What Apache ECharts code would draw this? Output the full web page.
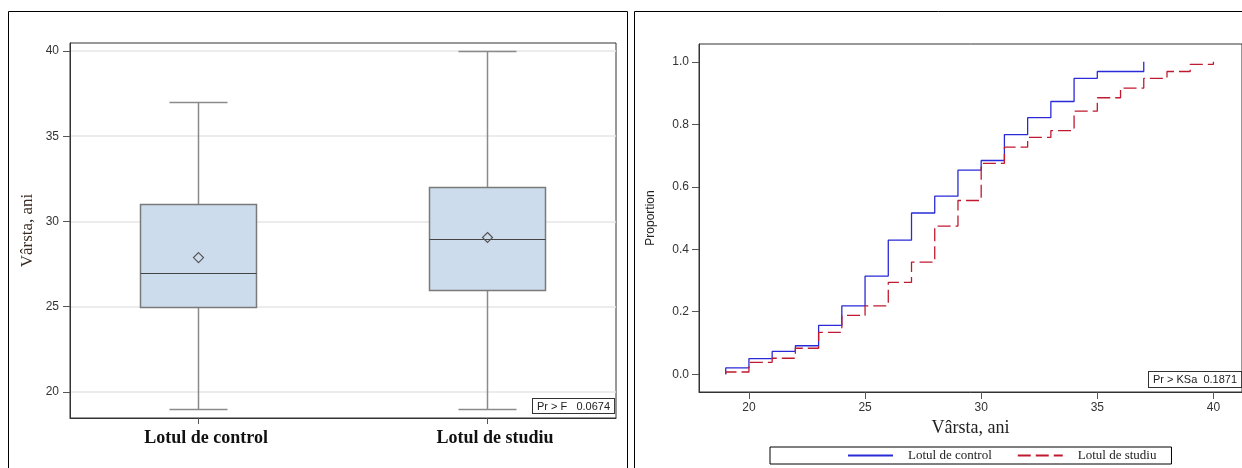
<!DOCTYPE html>
<html><head><meta charset="utf-8">
<script src="https://cdn.jsdelivr.net/npm/echarts@6/dist/echarts.min.js"></script>
<style>html,body{margin:0;padding:0;background:#fff}#c{width:1242px;height:468px}</style>
</head><body><div id="c"></div>
<script>
// ---- Left panel: box plot of age by group ----
const categories = ['Lotul de control', 'Lotul de studiu'];
const boxMin = [19, 19];
const boxQ1 = [25, 26];
const boxMedian = [27, 29];
const boxQ3 = [31, 32];
const boxMax = [37, 40];
const boxMean = [27.88, 29.06];
const boxTicks = [20, 25, 30, 35, 40];
const boxTestText = 'Pr > F   0.0674';

// ---- Right panel: empirical distribution functions ----
const seriesNames = ['Lotul de control', 'Lotul de studiu'];
const ageControl = [19, 20, 21, 22, 23, 24, 25, 26, 27, 28, 29, 30, 31, 32, 33, 34, 35, 37];
const propControl = [0.020, 0.050, 0.073, 0.091, 0.156, 0.219, 0.314, 0.429, 0.516, 0.570, 0.653, 0.684, 0.767, 0.821, 0.873, 0.947, 0.969, 1.000];
const ageStudy = [19, 20, 21, 22, 23, 24, 25, 26, 27, 28, 29, 30, 31, 32, 33, 34, 35, 36, 37, 38, 39, 40];
const propStudy = [0.007, 0.038, 0.051, 0.083, 0.134, 0.188, 0.219, 0.294, 0.359, 0.474, 0.556, 0.675, 0.727, 0.758, 0.780, 0.842, 0.885, 0.916, 0.947, 0.969, 0.992, 1.000];
const ageTicks = [20, 25, 30, 35, 40];
const propTicks = [0, 0.2, 0.4, 0.6, 0.8, 1.0];
const ksTestText = 'Pr > KSa  0.1871';

const boxData = categories.map((c, i) => [i + 1, boxMin[i], boxQ1[i], boxMedian[i], boxQ3[i], boxMax[i], boxMean[i]]);
function ecdf(xs, ys) {
  const out = [[xs[0], 0]];
  xs.forEach((x, i) => out.push([x, ys[i]]));
  return out;
}

const SANS = 'Liberation Sans, Arial, sans-serif';
const SERIF = 'Liberation Serif, Times New Roman, serif';

const chart = echarts.init(document.getElementById('c'), null, { renderer: 'canvas' });
chart.setOption({
  animation: false,
  backgroundColor: '#fff',
  grid: [
    { left: 70, top: 43, width: 546, height: 375, show: true, borderColor: '#333', borderWidth: 1, backgroundColor: 'transparent' },
    { left: 699, top: 44, width: 544, height: 348, show: true, borderColor: '#333', borderWidth: 1, backgroundColor: 'transparent' }
  ],
  xAxis: [
    {
      type: 'value', gridIndex: 0, min: 0.557, max: 2.446,
      axisLine: { show: true, onZero: false, lineStyle: { color: '#333' } },
      axisTick: { show: true, length: 6, customValues: [1, 2], lineStyle: { color: '#555' } },
      axisLabel: {
        customValues: [1, 2], margin: 11, padding: [0, 0, 0, 16],
        formatter: v => categories[Math.round(v) - 1] || '',
        fontFamily: SERIF, fontWeight: 'bold', fontSize: 18, color: '#111'
      },
      splitLine: { show: false }
    },
    {
      type: 'value', gridIndex: 1, min: 17.85, max: 41.23,
      name: 'Vârsta, ani', nameLocation: 'middle', nameGap: 26,
      nameTextStyle: { fontFamily: SERIF, fontSize: 18, color: '#222' },
      axisLine: { show: true, onZero: false, lineStyle: { color: '#333' } },
      axisTick: { show: true, length: 7, customValues: ageTicks, lineStyle: { color: '#555' } },
      axisLabel: { customValues: ageTicks, margin: 10, fontFamily: SANS, fontSize: 12, color: '#333' },
      splitLine: { show: false }
    }
  ],
  yAxis: [
    {
      type: 'value', gridIndex: 0, min: 18.47, max: 40.47,
      name: 'Vârsta, ani', nameLocation: 'middle', nameGap: 34, nameRotate: 90,
      nameTextStyle: { fontFamily: SERIF, fontSize: 17, color: '#3a2a20' },
      axisLine: { show: true, onZero: false, lineStyle: { color: '#333' } },
      axisTick: { show: true, length: 7, customValues: boxTicks, lineStyle: { color: '#555' } },
      axisLabel: { customValues: boxTicks, margin: 11, fontFamily: SANS, fontSize: 12, color: '#333' },
      splitLine: { show: true, lineStyle: { color: '#e6e6e6', width: 1.5 } }
    },
    {
      type: 'value', gridIndex: 1, min: -0.057, max: 1.057,
      name: 'Proportion', nameLocation: 'middle', nameGap: 42, nameRotate: 90,
      nameTextStyle: { fontFamily: 'Liberation Sans Narrow, ' + SANS, fontSize: 12, color: '#222' },
      axisLine: { show: true, onZero: false, lineStyle: { color: '#333' } },
      axisTick: { show: true, length: 7, customValues: propTicks, lineStyle: { color: '#555' } },
      axisLabel: { customValues: propTicks, margin: 10, formatter: v => v.toFixed(1), fontFamily: SANS, fontSize: 12, color: '#333' },
      splitLine: { show: false }
    }
  ],
  legend: {
    left: 770, top: 447, orient: 'horizontal',
    data: seriesNames,
    itemWidth: 45, itemHeight: 12, itemGap: 25,
    itemStyle: { opacity: 0 },
    borderColor: '#000', borderWidth: 1, padding: [2, 15, 2, 77],
    textStyle: { fontFamily: SERIF, fontSize: 13, color: '#222', padding: [0, 0, 0, 10] }
  },
  series: [
    {
      type: 'custom', xAxisIndex: 0, yAxisIndex: 0, data: boxData,
      encode: { x: 0, y: [1, 2, 3, 4, 5, 6] },
      renderItem: function (params, api) {
        const x = api.value(0);
        const cx = Math.round(api.coord([x, 0])[0]) + 0.5;
        const y = v => Math.round(api.coord([x, v])[1]) + 0.5;
        const yMin = y(api.value(1)), yQ1 = y(api.value(2)), yMed = y(api.value(3));
        const yQ3 = y(api.value(4)), yMax = y(api.value(5));
        const yMean = api.coord([x, api.value(6)])[1];
        const hw = 58, cw = 29, d = 5;
        const wStyle = { stroke: '#8a8a8a', lineWidth: 1.5 };
        return {
          type: 'group',
          children: [
            { type: 'line', shape: { x1: cx, y1: yQ3, x2: cx, y2: yMax }, style: wStyle },
            { type: 'line', shape: { x1: cx, y1: yQ1, x2: cx, y2: yMin }, style: wStyle },
            { type: 'line', shape: { x1: cx - cw, y1: yMax, x2: cx + cw, y2: yMax }, style: wStyle },
            { type: 'line', shape: { x1: cx - cw, y1: yMin, x2: cx + cw, y2: yMin }, style: wStyle },
            { type: 'rect', shape: { x: cx - hw, y: yQ3, width: hw * 2, height: yQ1 - yQ3 }, style: { fill: '#cddcec', stroke: '#7a7a7a', lineWidth: 1.5 } },
            { type: 'line', shape: { x1: cx - hw, y1: yMed, x2: cx + hw, y2: yMed }, style: { stroke: '#444', lineWidth: 1.2 } },
            { type: 'polygon', shape: { points: [[cx, yMean - d], [cx + d, yMean], [cx, yMean + d], [cx - d, yMean]] }, style: { fill: 'none', stroke: '#555', lineWidth: 1.2 } }
          ]
        };
      }
    },
    {
      name: seriesNames[0], type: 'line', xAxisIndex: 1, yAxisIndex: 1,
      data: ecdf(ageControl, propControl), step: 'end', symbol: 'none',
      lineStyle: { color: '#2a2ad8', width: 1.3 }, itemStyle: { color: '#2a2ad8' }
    },
    {
      name: seriesNames[1], type: 'line', xAxisIndex: 1, yAxisIndex: 1,
      data: ecdf(ageStudy, propStudy), step: 'end', symbol: 'none',
      lineStyle: { color: '#c01a30', width: 1.3, type: [13, 5] }, itemStyle: { color: '#c01a30' }
    }
  ],
  graphic: [
    { type: 'rect', silent: true, shape: { x: 8.5, y: 11.5, width: 619, height: 500 }, style: { fill: 'none', stroke: '#000', lineWidth: 1 } },
    { type: 'rect', silent: true, shape: { x: 634.5, y: 11.5, width: 700, height: 500 }, style: { fill: 'none', stroke: '#000', lineWidth: 1 } },
    { type: 'text', silent: true, left: 532, top: 398, style: { text: boxTestText, font: '11px ' + SANS, fill: '#222', padding: [2, 4, 1, 4], borderColor: '#333', borderWidth: 1, backgroundColor: '#fff' } },
    { type: 'text', silent: true, left: 1148, top: 371, style: { text: ksTestText, font: '11px ' + SANS, fill: '#222', padding: [2, 4, 2, 4], borderColor: '#333', borderWidth: 1, backgroundColor: '#fff' } }
  ]
});
</script>
</body></html>
